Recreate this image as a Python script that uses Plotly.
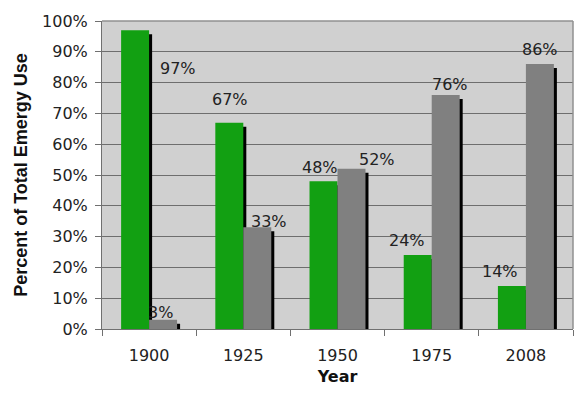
import plotly.graph_objects as go

years = ["1900", "1925", "1950", "1975", "2008"]
renewable = [97, 67, 48, 24, 14]
nonrenewable = [3, 33, 52, 76, 86]
label_text_g = ["97%", "67%", "48%", "24%", "14%"]
label_text_n = ["3%", "33%", "52%", "76%", "86%"]

# label pixel shifts (style only)
g_shift = [(43, -38), (1, 23), (-4, 14), (-11, 15), (-12, 14)]
n_shift = [(-3, 7), (12, 6), (26, 9), (4, 10), (0, 15)]

W = 0.297
SH = 0.032
GREEN = "#12A012"
GRAY = "#808080"
PX = 94.2  # approx pixels per category

fig = go.Figure()
# shadows
fig.add_trace(go.Bar(x=years, y=renewable, base=-1.3, offset=-W + SH, width=W,
                     marker=dict(color="black", line=dict(width=0)), hoverinfo="skip", showlegend=False))
fig.add_trace(go.Bar(x=years, y=nonrenewable, base=-1.3, offset=SH, width=W,
                     marker=dict(color="black", line=dict(width=0)), hoverinfo="skip", showlegend=False))
# bars
fig.add_trace(go.Bar(x=years, y=renewable, offset=-W, width=W,
                     marker=dict(color=GREEN, line=dict(width=0)), showlegend=False))
fig.add_trace(go.Bar(x=years, y=nonrenewable, offset=0, width=W,
                     marker=dict(color=GRAY, line=dict(width=0)), showlegend=False))

annotations = []
for i, yr in enumerate(years):
    annotations.append(dict(x=i, y=renewable[i], text=label_text_g[i], showarrow=False,
                            xshift=-W * PX / 2 + g_shift[i][0], yshift=g_shift[i][1],
                            font=dict(family="DejaVu Sans", size=16, color="#222")))
    annotations.append(dict(x=i, y=nonrenewable[i], text=label_text_n[i], showarrow=False,
                            xshift=W * PX / 2 + n_shift[i][0], yshift=n_shift[i][1],
                            font=dict(family="DejaVu Sans", size=16, color="#222")))

# page body has an 8px margin, so the figure is sized/offset to compensate
fig.update_layout(
    width=574, height=389,
    margin=dict(l=94, r=9, t=13, b=68, autoexpand=False),
    paper_bgcolor="white",
    plot_bgcolor="#D0D0D0",
    barmode="overlay",
    annotations=annotations,
    font=dict(family="DejaVu Sans", size=16, color="#222"),
    xaxis=dict(
        type="category",
        automargin=False,
        range=[-0.5, 4.5],
        showline=True, linecolor="#707070", linewidth=1, mirror=False,
        ticks="outside", ticklen=6, tickcolor="#707070",
        tickson="boundaries",
        ticklabelstandoff=12,
        showgrid=False,
        tickfont=dict(family="DejaVu Sans", size=16, color="#222"),
        title=dict(text="<b>Year</b>", font=dict(family="DejaVu Sans", size=16, color="#111"), standoff=6),
    ),
    yaxis=dict(
        automargin=False,
        range=[0, 100],
        tickvals=[0, 10, 20, 30, 40, 50, 60, 70, 80, 90, 100],
        ticktext=["0%", "10%", "20%", "30%", "40%", "50%", "60%", "70%", "80%", "90%", "100%"],
        showline=True, linecolor="#707070", linewidth=1,
        ticks="outside", ticklen=6, tickcolor="#707070",
        ticklabelstandoff=4,
        showgrid=True, gridcolor="#6E6E6E", gridwidth=1,
        zeroline=False,
        tickfont=dict(family="DejaVu Sans", size=16, color="#222"),
        title=dict(text="<b>Percent of Total Emergy Use</b>",
                   font=dict(family="Liberation Sans", size=18, color="#111"), standoff=9),
    ),
    shapes=[
        dict(type="line", xref="paper", yref="paper", x0=0, x1=1, y0=1, y1=1,
             line=dict(color="#909090", width=1.5)),
        dict(type="line", xref="paper", yref="paper", x0=1, x1=1, y0=0, y1=1,
             line=dict(color="#909090", width=1.5)),
    ],
)

fig.write_html("out.html")
